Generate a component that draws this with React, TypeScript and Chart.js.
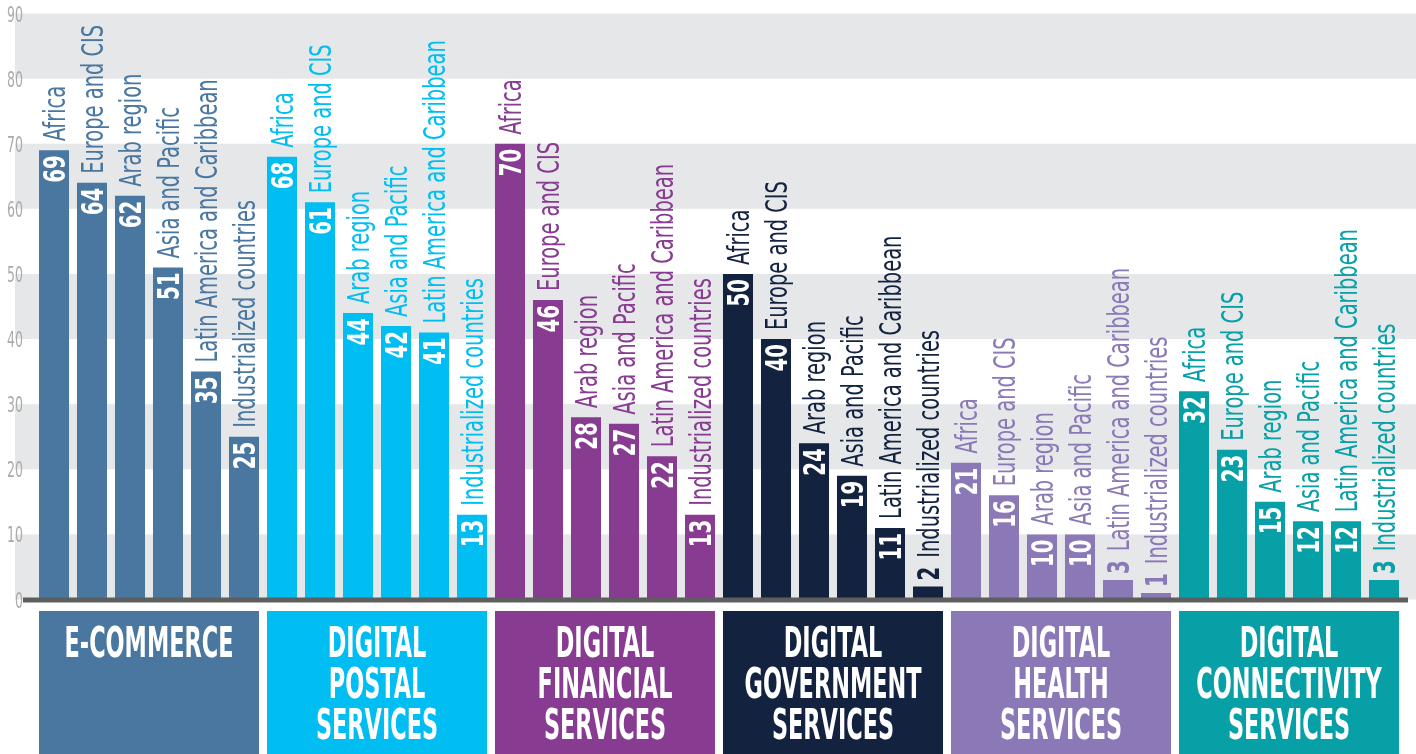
import React, { useEffect, useRef } from "react";
import { Chart, registerables } from "chart.js";

Chart.register(...registerables);

// ---- data ----
const groupTitles: string[][] = [
  ["E-COMMERCE"],
  ["DIGITAL", "POSTAL", "SERVICES"],
  ["DIGITAL", "FINANCIAL", "SERVICES"],
  ["DIGITAL", "GOVERNMENT", "SERVICES"],
  ["DIGITAL", "HEALTH", "SERVICES"],
  ["DIGITAL", "CONNECTIVITY", "SERVICES"],
];
const regions = [
  "Africa",
  "Europe and CIS",
  "Arab region",
  "Asia and Pacific",
  "Latin America and Caribbean",
  "Industrialized countries",
];
const eCommerce = [69, 64, 62, 51, 35, 25];
const digitalPostal = [68, 61, 44, 42, 41, 13];
const digitalFinancial = [70, 46, 28, 27, 22, 13];
const digitalGovernment = [50, 40, 24, 19, 11, 2];
const digitalHealth = [21, 16, 10, 10, 3, 1];
const digitalConnectivity = [32, 23, 15, 12, 12, 3];
const groupColors = ["#4A77A0", "#00BDF2", "#873B91", "#12223F", "#8B79B7", "#06A0A6"];
const yMin = 0;
const yMax = 90;
const yStep = 10;

const series = [eCommerce, digitalPostal, digitalFinancial, digitalGovernment, digitalHealth, digitalConnectivity];

const NARROW = '"Liberation Sans Narrow", "Arial Narrow", "DejaVu Sans Condensed", "Roboto Condensed", sans-serif';

const bandsPlugin = {
  id: "bands",
  beforeDraw(chart: any) {
    const { ctx, scales } = chart;
    const y = scales.y;
    ctx.save();
    ctx.fillStyle = "#E6E7E8";
    for (let v = yMin; v < yMax; v += yStep * 2) {
      const top = y.getPixelForValue(v + yStep);
      const bot = y.getPixelForValue(v);
      ctx.fillRect(15, top, chart.width - 15, bot - top);
    }
    // y tick labels (from the library's own ticks), condensed
    ctx.font = `22px ${NARROW}`;
    const tScale = 16 / ctx.measureText("90").width;
    const cap = ctx.measureText("8").actualBoundingBoxAscent || 16;
    ctx.fillStyle = "#ABABAB";
    ctx.textAlign = "right";
    ctx.textBaseline = "alphabetic";
    y.ticks.forEach((t: any) => {
      const py = y.getPixelForValue(t.value);
      ctx.save();
      ctx.translate(23, py + cap / 2);
      ctx.scale(tScale, 1);
      ctx.fillText(String(t.value), 0, 0);
      ctx.restore();
    });
    ctx.restore();
  },
};

const decorPlugin = {
  id: "decor",
  afterDraw(chart: any) {
    const { ctx, scales } = chart;
    const y = scales.y;
    const meta = chart.getDatasetMeta(0);
    const zero = y.getPixelForValue(0);
    const values: number[] = chart.data.datasets[0].data;
    const cols: string[] = chart.data.datasets[0].backgroundColor;
    const names: string[] = chart.data.labels;

    // axis base line
    ctx.save();
    ctx.fillStyle = "#5E5E5E";
    ctx.fillRect(23, zero - 2, 1408 - 23, 5);
    ctx.restore();

    // calibrate condensed scaling
    ctx.save();
    ctx.font = `30px ${NARROW}`;
    const wa = ctx.measureText("Latin America and Caribbean").width;
    const wb = ctx.measureText("Industrialized countries").width;
    const nameScale = (280 + 231) / (wa + wb);
    const nameCap = ctx.measureText("H").actualBoundingBoxAscent || 21.5;
    ctx.font = `bold 30px ${NARROW}`;
    const numScale = 27.5 / ctx.measureText("69").width;
    const numCap = ctx.measureText("8").actualBoundingBoxAscent || 21.5;
    ctx.font = `bold 43px ${NARROW}`;
    const boxScale = 177 / ctx.measureText("GOVERNMENT").width;
    ctx.restore();

    // bar labels
    meta.data.forEach((bar: any, i: number) => {
      const v = values[i];
      const col = cols[i];
      const top = bar.y;
      const h = zero - top;
      const numStr = String(v);
      ctx.save();
      ctx.translate(bar.x, top);
      ctx.rotate(-Math.PI / 2);
      ctx.textBaseline = "alphabetic";
      ctx.font = `bold 30px ${NARROW}`;
      const nw = ctx.measureText(numStr).width * numScale;
      const inside = h >= nw + 12;
      let nameStart: number;
      ctx.save();
      if (inside) {
        ctx.translate(-5 - nw, numCap / 2);
        ctx.fillStyle = "#FFFFFF";
        nameStart = 9;
      } else {
        ctx.translate(6, numCap / 2);
        ctx.fillStyle = col;
        nameStart = 6 + nw + 9;
      }
      ctx.scale(numScale, 1);
      ctx.textAlign = "left";
      ctx.fillText(numStr, 0, 0);
      ctx.restore();

      ctx.save();
      ctx.font = `30px ${NARROW}`;
      ctx.translate(nameStart, nameCap / 2);
      ctx.scale(nameScale, 1);
      ctx.textAlign = "left";
      ctx.fillStyle = col;
      ctx.fillText(names[i], 0, 0);
      ctx.restore();
      ctx.restore();
    });

    // group boxes
    groupTitles.forEach((lines, g) => {
      const first = meta.data[g * 6];
      const last = meta.data[g * 6 + 5];
      const left = first.x - first.width / 2;
      const right = last.x + last.width / 2;
      const boxTop = zero + 11.5;
      ctx.save();
      ctx.fillStyle = groupColors[g];
      ctx.fillRect(left, boxTop, right - left, chart.height - boxTop);
      ctx.fillStyle = "#FFFFFF";
      ctx.font = `bold 43px ${NARROW}`;
      ctx.textAlign = "center";
      ctx.textBaseline = "alphabetic";
      const cx = (left + right) / 2;
      lines.forEach((ln, li) => {
        ctx.save();
        ctx.translate(cx, boxTop + 46 + li * 41);
        ctx.scale(boxScale, 1);
        ctx.fillText(ln, 0, 0);
        ctx.restore();
      });
      ctx.restore();
    });
  },
};

export default function App() {
  const ref = useRef<HTMLCanvasElement | null>(null);
  useEffect(() => {
    document.body.style.margin = "0";
    const canvas = ref.current;
    if (!canvas) return;
    const labels = groupTitles.flatMap(() => regions);
    const data = series.flat();
    const colors = series.flatMap((s, gi) => s.map(() => groupColors[gi]));
    const chart = new Chart(canvas, {
      type: "bar",
      data: {
        labels,
        datasets: [
          {
            data,
            backgroundColor: colors,
            borderWidth: 0,
            barPercentage: 0.79,
            categoryPercentage: 1,
          },
        ],
      },
      options: {
        responsive: false,
        animation: false,
        devicePixelRatio: 1,
        layout: { padding: { top: 13.5, right: 13, bottom: 154.5, left: 0 } },
        plugins: {
          legend: { display: false },
          tooltip: { enabled: false },
          title: { display: false },
        },
        scales: {
          x: { display: false },
          y: {
            min: yMin,
            max: yMax,
            afterFit: (s: any) => {
              s.width = 35;
              s.paddingTop = 0;
              s.paddingBottom = 0;
            },
            grid: { display: false, drawTicks: false },
            border: { display: false },
            ticks: {
              display: false,
              stepSize: yStep,
            },
          },
        },
      } as any,
      plugins: [bandsPlugin, decorPlugin],
    });
    return () => chart.destroy();
  }, []);
  return (
    <div style={{ width: 1416, height: 754 }}>
      <canvas ref={ref} width={1416} height={754} style={{ display: "block", width: 1416, height: 754 }} />
    </div>
  );
}
